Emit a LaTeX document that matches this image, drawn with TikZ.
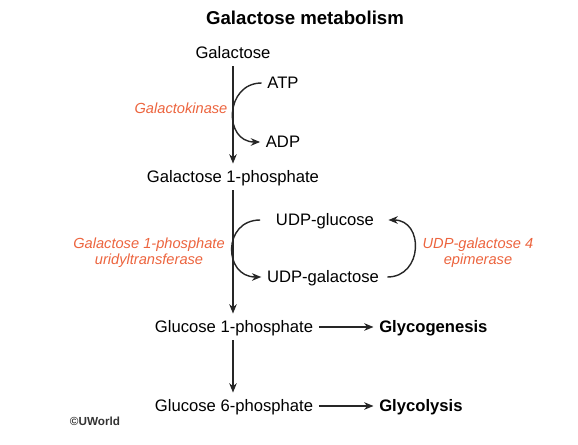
\documentclass[tikz,border=0pt]{standalone}
\usepackage{fontspec}
\setmainfont{Liberation Sans}
\usepackage{xcolor}
\usepackage{tikz}
\usetikzlibrary{positioning,calc,arrows.meta}
\definecolor{enzyme}{RGB}{236,100,62}

\begin{document}
\fontsize{14.2}{17}\selectfont
\begin{tikzpicture}[x=0.03cm,y=-0.03cm, >={Stealth[length=8pt,width=6.5pt]},
    met/.style={text height=1.5ex, text depth=.25ex},
    enz/.style={text=enzyme, font=\fontsize{12.5}{13.7}\selectfont\itshape, align=center},
    flow/.style={->, line width=1.2pt, black!85}]
    \useasboundingbox (0,0) rectangle (578,445);
    \node [font=\fontsize{15.9}{19}\selectfont\bfseries] (title) at (305,18) {Galactose metabolism};
    % main pathway
    \node [met] (gal) at (233,53) {Galactose};
    \node [met] (gal1p) at (233,177) {Galactose 1-phosphate};
    \node [met] (glc1p) at (234,327) {Glucose 1-phosphate};
    \node [met] (glc6p) at (234,406) {Glucose 6-phosphate};
    \node [met, font=\bfseries, anchor=west] (gen) at (373.5,327) {Glycogenesis};
    \node [met, font=\bfseries, anchor=west] (lys) at (373.5,406) {Glycolysis};
    \draw [flow] (gal.south) -- (gal1p.north);
    \draw [flow] (gal1p.south) -- (glc1p.north -| gal1p.south);
    \draw [flow] (glc1p.south -| gal1p.south) -- (glc6p.north -| gal1p.south);
    \draw [flow] (glc1p.east) -- (gen.west);
    \draw [flow] (glc6p.east) -- (lys.west);
    % galactokinase
    \node [met] (atp) at (283,83) {ATP};
    \node [met] (adp) at (283,142) {ADP};
    \draw [flow] (atp.west) to [out=180,in=180,looseness=1.6] (adp.west);
    \node [enz] (gk) at (181,108) {Galactokinase};
    % uridyltransferase and epimerase
    \node [met] (udpglc) at (325,220) {UDP-glucose};
    \node [met] (udpgal) at (323,277) {UDP-galactose};
    \draw [flow] ([xshift=-0.3cm]udpglc.west) to [out=180,in=180,looseness=1.7] (udpgal.west);
    \draw [flow] ([xshift=0.08cm]udpgal.east) to [out=0,in=0,looseness=1.6] ([xshift=0.26cm]udpglc.east);
    \node [enz] (galt) at (149,253) {Galactose 1-phosphate\\uridyltransferase};
    \node [enz] (gale) at (478,253) {UDP-galactose 4\\epimerase};
    \node [font=\fontsize{10}{12}\selectfont\bfseries, text=black!80] (copy) at (95,421) {©UWorld};
\end{tikzpicture}
\end{document}
